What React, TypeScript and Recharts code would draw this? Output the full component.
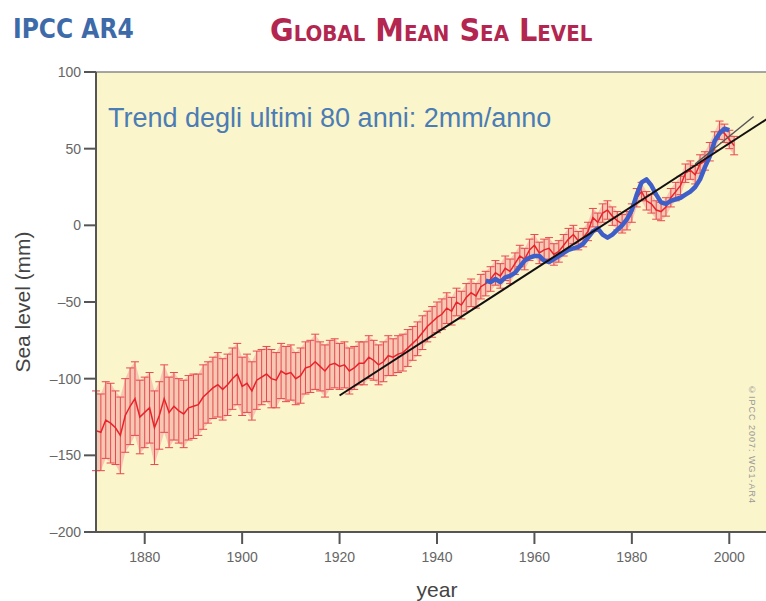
import {
  ComposedChart,
  Line,
  Area,
  XAxis,
  YAxis,
  CartesianGrid,
  ReferenceLine,
  ErrorBar,
} from "recharts";

// annual global mean sea level (mm), 1870-2001, red series
const redLevel = [
  -134, -135, -127, -129, -132, -137, -124, -118, -113, -125,
  -122, -119, -132, -124, -113, -122, -118, -121, -123, -119,
  -118, -117, -112, -109, -106, -104, -107, -104, -100, -97,
  -105, -103, -108, -101, -99, -97, -100, -101, -95, -97,
  -96, -100, -98, -93, -92, -89, -92, -95, -91, -90,
  -92, -91, -95, -93, -90, -90, -86, -88, -91, -89,
  -85, -86, -84, -83, -80, -77, -74, -70, -66, -63,
  -60, -58, -54, -56, -50, -52, -47, -44, -46, -40,
  -38, -35, -31, -33, -28, -30, -25, -20, -22, -16,
  -13, -18, -16, -15, -19, -17, -13, -9, -6, -10,
  -8, -4, 5, 2, 8, 10, 6, 3, 1, 3,
  8, 18, 22, 16, 14, 10, 9, 12, 18, 22,
  26, 34, 36, 33, 40, 42, 48, 55, 62, 60,
  56, 52,
];
const redError = [
  26, 25, 25, 26, 24, 25, 24, 25, 24, 24,
  23, 23, 24, 22, 22, 23, 22, 21, 22, 21,
  21, 20, 21, 20, 20, 21, 20, 20, 20, 20,
  19, 19, 19, 19, 18, 18, 19, 18, 18, 18,
  18, 17, 18, 17, 17, 18, 16, 17, 16, 16,
  15, 15, 15, 14, 14, 14, 14, 13, 13, 13,
  13, 12, 12, 12, 12, 11, 11, 11, 10, 10,
  10, 10, 10, 9, 9, 9, 9, 9, 8, 8,
  8, 8, 8, 8, 8, 8, 7, 7, 7, 7,
  7, 7, 7, 7, 7, 7, 7, 7, 6, 6,
  6, 6, 6, 6, 6, 6, 6, 6, 6, 6,
  6, 6, 6, 6, 6, 6, 6, 6, 6, 6,
  6, 6, 6, 6, 6, 6, 6, 6, 6, 6,
  6, 6,
];
const redStart = 1870;

// blue series, 1950-2000
const blueLevel = [
  -36, -37, -35, -37, -34, -33, -31, -27, -23, -21,
  -20, -20, -23, -24, -22, -20, -18, -16, -15, -14,
  -12, -8, -4, -2, -6, -8, -6, -3, 0, 4,
  10, 20, 28, 30, 26, 20, 15, 14, 16, 17,
  18, 20, 22, 25, 30, 38, 45, 55, 60, 63,
  62,
];
const blueStart = 1950;

const trendYears = [1920, 2010];
const trendLevel = [-111, 74];
const recentYears = [1993, 2005];
const recentLevel = [40, 71];

const yearTicks = [1880, 1900, 1920, 1940, 1960, 1980, 2000];
const levelTicks = [-200, -150, -100, -50, 0, 50, 100];

type Row = { year: number; [k: string]: any };
const rows: Record<number, Row> = {};
const row = (y: number) => (rows[y] ??= { year: y });
redLevel.forEach((v, i) => {
  const r = row(redStart + i);
  r.red = v;
  r.err = redError[i];
  r.band = [v - redError[i], v + redError[i]];
});
blueLevel.forEach((v, i) => {
  row(blueStart + i).blue = v;
});
trendYears.forEach((y, i) => {
  row(y).trend = trendLevel[i];
});
recentYears.forEach((y, i) => {
  row(y).recent = recentLevel[i];
});
const data = Object.values(rows).sort((a, b) => a.year - b.year);

const narrow = '"Liberation Sans Narrow", "DejaVu Sans Condensed", sans-serif';
const sans = '"Liberation Sans", Arial, sans-serif';
const tickStyle = { fontSize: 14, fill: "#666", fontFamily: sans };

export default function App() {
  return (
    <div
      style={{
        position: "absolute",
        left: 0,
        top: 0,
        width: 766,
        height: 601,
        overflow: "hidden",
        background: "#fff",
      }}
    >
      <ComposedChart
        width={790}
        height={601}
        data={data}
        margin={{ top: 72, right: 12, bottom: 0, left: 0 }}
      >
        <CartesianGrid horizontal={false} vertical={false} fill="#fbf5cb" />
        <XAxis
          type="number"
          dataKey="year"
          domain={[1870, 2010]}
          ticks={yearTicks}
          allowDataOverflow
          height={69}
          stroke="#555"
          strokeWidth={2}
          tickSize={12}
          tickMargin={8}
          tick={tickStyle}
          label={{
            value: "year",
            position: "insideBottom",
            offset: 4,
            style: { fontSize: 21, fill: "#444", fontFamily: sans },
          }}
        />
        <YAxis
          type="number"
          domain={[-200, 100]}
          ticks={levelTicks}
          width={96}
          stroke="#555"
          strokeWidth={2}
          tickSize={12}
          tickMargin={3}
          tick={tickStyle}
          tickFormatter={(v: number) => String(v).replace("-", "\u2013")}
          label={{
            value: "Sea level (mm)",
            angle: -90,
            position: "insideLeft",
            offset: 23,
            style: { fontSize: 21, fill: "#444", fontFamily: sans, textAnchor: "middle" },
          }}
        />
        <ReferenceLine y={100} stroke="#888" strokeWidth={1.5} />
        <Area
          dataKey="band"
          stroke="none"
          fill="#f3a3a3"
          fillOpacity={0.55}
          isAnimationActive={false}
        />
        <Line
          dataKey="red"
          stroke="#e8232b"
          strokeWidth={1.5}
          dot={false}
          isAnimationActive={false}
        >
          <ErrorBar dataKey="err" width={4} stroke="#e8484d" strokeWidth={1} direction="y" />
        </Line>
        <Line
          dataKey="blue"
          stroke="#3f5fc8"
          strokeWidth={4.5}
          dot={false}
          strokeLinejoin="round"
          isAnimationActive={false}
        />
        <Line
          dataKey="trend"
          stroke="#111"
          strokeWidth={2}
          dot={false}
          connectNulls
          isAnimationActive={false}
        />
        <Line
          dataKey="recent"
          stroke="#555"
          strokeWidth={1.5}
          dot={false}
          connectNulls
          isAnimationActive={false}
        />
      </ComposedChart>

      <div
        style={{
          position: "absolute",
          left: 13,
          top: 14,
          fontFamily: narrow,
          fontWeight: "bold",
          fontSize: 26,
          color: "#3d6aa8",
        }}
      >
        IPCC AR4
      </div>
      <div
        style={{
          position: "absolute",
          left: 270,
          top: 11,
          fontFamily: narrow,
          fontWeight: "bold",
          fontSize: 32,
          fontVariant: "small-caps",
          color: "#b3264f",
          whiteSpace: "nowrap",
        }}
      >
        Global Mean Sea Level
      </div>
      <div
        style={{
          position: "absolute",
          left: 108,
          top: 103,
          fontFamily: sans,
          fontSize: 27,
          color: "#4a7cb5",
          whiteSpace: "nowrap",
        }}
      >
        Trend degli ultimi 80 anni: 2mm/anno
      </div>
      <div
        style={{
          position: "absolute",
          left: 747,
          top: 385,
          writingMode: "vertical-rl",
          fontFamily: sans,
          fontSize: 9,
          letterSpacing: 1,
          color: "#999",
        }}
      >
        ©IPCC 2007: WG1-AR4
      </div>
    </div>
  );
}
